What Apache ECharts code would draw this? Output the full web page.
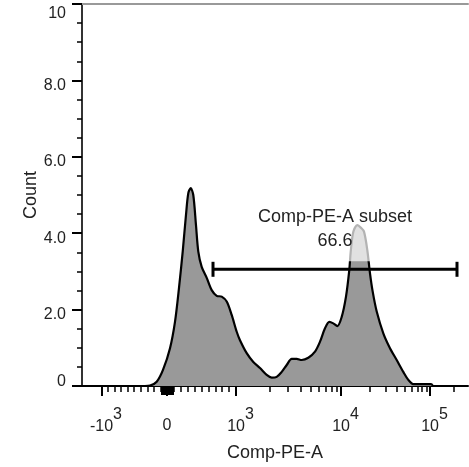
<!DOCTYPE html>
<html><head><meta charset="utf-8">
<script src="https://cdn.jsdelivr.net/npm/echarts@6/dist/echarts.min.js"></script>
<style>html,body{margin:0;padding:0;background:#fff}#c{width:469px;height:467px}</style>
</head><body><div id="c"></div>
<script>
// Histogram of Comp-PE-A on a display-channel scale (0..1000 across the plot)
const channels = [163.2, 176.2, 193.5, 209.8, 228.0, 240.9, 251.3, 260.9, 269.4, 275.4, 281.6, 288.3, 295.3, 301.3, 310.1, 323.1, 336.0, 349.0, 361.9, 374.9, 387.8, 400.8, 409.3, 426.7, 443.8, 461.1, 478.5, 491.5, 504.4, 517.4, 530.3, 543.3, 556.2, 569.2, 586.3, 603.6, 616.6, 629.5, 640.7, 651.0, 661.4, 672.8, 683.9, 692.5, 696.1, 702.9, 713.2, 722.8, 730.6, 739.1, 746.1, 753.1, 763.5, 780.6, 797.9, 815.3, 832.4, 845.4, 858.3, 875.7, 904.1, 909.3];
const counts = [0, 0.01, 0.11, 0.42, 0.99, 1.68, 2.57, 3.52, 4.48, 5.05, 5.18, 5.00, 4.21, 3.52, 3.12, 2.83, 2.51, 2.36, 2.34, 2.21, 1.86, 1.42, 1.20, 0.86, 0.63, 0.47, 0.29, 0.22, 0.24, 0.37, 0.55, 0.71, 0.71, 0.68, 0.74, 0.90, 1.16, 1.51, 1.68, 1.64, 1.57, 1.81, 2.34, 3.04, 3.51, 4.04, 4.21, 4.14, 4.04, 3.56, 2.95, 2.47, 1.95, 1.38, 0.99, 0.68, 0.37, 0.16, 0.05, 0.05, 0.05, 0];

// X axis ticks in Comp-PE-A units
const majorTickValues = [-1000, 0, 1000, 10000, 100000];
const majorTickBase = ['-10', '0', '10', '10', '10'];
const majorTickExp = ['3', '', '3', '4', '5'];
const minorTickValues = [-900, -800, -700, -600, -500, -400, -300, -200, -100,
  100, 200, 300, 400, 500, 600, 700, 800, 900,
  2000, 3000, 4000, 5000, 6000, 7000, 8000, 9000,
  20000, 30000, 40000, 50000, 60000, 70000, 80000, 90000, 200000];
const nearZeroTickValues = [-90, -80, -70, -60, -50, -40, -30, -20, -10, 10, 20, 30, 40, 50, 60, 70, 80, 90];

// Gate
const gateRange = [339.4, 971.5];
const gateLevel = 3.055;
const gateName = 'Comp-PE-A subset';
const gatePercent = '66.6';

// biexponential-like display transform (value -> display channel)
function toChannel(v) {
  if (v < 0) return 220.2 + 0.1697 * v;
  if (v <= 1000) return 220.2 + 0.17876 * v;
  const u = Math.log10(v / 1000);
  return 398.96 + 292.7 * u - 20.7 * u * u;
}
const majorCh = majorTickValues.map(toChannel);
const minorCh = minorTickValues.map(toChannel);
const zeroCh = nearZeroTickValues.map(toChannel);

const FONT = '"Liberation Sans", Arial, sans-serif';
const chart = echarts.init(document.getElementById('c'));

const xBase = {type: 'value', min: 0, max: 1000, position: 'bottom', splitLine: {show: false}};

chart.setOption({
  animation: false,
  backgroundColor: '#fff',
  grid: {left: 82, right: 1, top: 4, bottom: 81},
  xAxis: [
    Object.assign({}, xBase, {
      name: 'Comp-PE-A', nameLocation: 'middle', nameGap: 58, nameMoveOverlap: false,
      nameTextStyle: {fontSize: 18, color: '#222', fontFamily: FONT},
      axisLine: {lineStyle: {color: '#000', width: 2}},
      axisTick: {customValues: majorCh, length: 10, lineStyle: {color: '#000', width: 2}},
      axisLabel: {
        customValues: majorCh, margin: 21, color: '#222', fontFamily: FONT, fontSize: 16,
        formatter: function (val) {
          let i = 0, best = 1e9;
          majorCh.forEach((c, k) => { if (Math.abs(c - val) < best) { best = Math.abs(c - val); i = k; } });
          if (!majorTickExp[i]) return '{z|' + majorTickBase[i] + '}';
          return '{b|' + majorTickBase[i] + '}{s|' + majorTickExp[i] + '}';
        },
        rich: {
          b: {fontSize: 16, fontFamily: FONT, color: '#222', padding: [11, 0, 0, 9]},
          s: {fontSize: 16, fontFamily: FONT, color: '#222', padding: [0, 0, 12, 0]},
          z: {fontSize: 16, fontFamily: FONT, color: '#222', padding: [11, 0, 0, 0]}
        }
      }
    }),
    Object.assign({}, xBase, {
      axisLine: {show: false},
      axisTick: {customValues: minorCh, length: 6, lineStyle: {color: '#000', width: 1.5}},
      axisLabel: {show: false}
    }),
    Object.assign({}, xBase, {
      axisLine: {show: false},
      axisTick: {customValues: zeroCh, length: 9, lineStyle: {color: '#000', width: 1}},
      axisLabel: {show: false}
    }),
    Object.assign({}, xBase, {
      position: 'top',
      axisLine: {lineStyle: {color: '#999', width: 2}},
      axisTick: {show: false}, axisLabel: {show: false}
    })
  ],
  yAxis: [
    {
      type: 'value', min: 0, max: 10, interval: 2, position: 'left',
      name: 'Count', nameLocation: 'middle', nameGap: 42, nameMoveOverlap: false,
      nameTextStyle: {fontSize: 18, color: '#222', fontFamily: FONT},
      splitLine: {show: false},
      axisLine: {show: true, lineStyle: {color: '#000', width: 2}},
      axisTick: {show: true, length: 10, lineStyle: {color: '#000', width: 2}},
      minorTick: {show: true, splitNumber: 4, length: 5, lineStyle: {color: '#000', width: 1.5}},
      axisLabel: {
        margin: 16, color: '#222', fontFamily: FONT, fontSize: 16,
        formatter: function (v) {
          if (v === 0) return '{z|0}';
          if (v === 10) return '{t|10}';
          return '{n|' + v.toFixed(1) + '}';
        },
        rich: {
          n: {fontSize: 16, fontFamily: FONT, color: '#222', padding: [10, 0, 0, 0]},
          t: {fontSize: 16, fontFamily: FONT, color: '#222', padding: [20, 0, 0, 0]},
          z: {fontSize: 16, fontFamily: FONT, color: '#222', padding: [0, 0, 8, 0]}
        }
      }
    },
    {
      type: 'value', min: 0, max: 10, position: 'right',
      splitLine: {show: false},
      axisLine: {show: true, lineStyle: {color: '#333', width: 2}},
      axisTick: {show: false}, axisLabel: {show: false}
    }
  ],
  series: [
    {
      type: 'line', xAxisIndex: 0, yAxisIndex: 0,
      data: channels.map((c, i) => [c, counts[i]]),
      smooth: 0.3, symbol: 'none',
      lineStyle: {color: '#000', width: 2.2},
      areaStyle: {color: '#999999', opacity: 1},
      z: 2
    },
    {
      type: 'custom', xAxisIndex: 0, yAxisIndex: 0, z: 5,
      data: [[gateRange[0], gateRange[1], gateLevel]],
      renderItem: function (params, api) {
        const p1 = api.coord([api.value(0), api.value(2)]);
        const p2 = api.coord([api.value(1), api.value(2)]);
        const ls = {stroke: '#000', lineWidth: 3};
        return {
          type: 'group',
          children: [
            {type: 'line', shape: {x1: p1[0], y1: p1[1], x2: p2[0], y2: p2[1]}, style: ls},
            {type: 'line', shape: {x1: p1[0], y1: p1[1] - 7.5, x2: p1[0], y2: p1[1] + 7.5}, style: ls},
            {type: 'line', shape: {x1: p2[0], y1: p2[1] - 7.5, x2: p2[0], y2: p2[1] + 7.5}, style: ls},
            {type: 'text', style: {
              text: gateName + '\n' + gatePercent,
              x: (p1[0] + p2[0]) / 2, y: p1[1] - 8,
              align: 'center', verticalAlign: 'bottom',
              font: '18px ' + FONT, lineHeight: 24, fill: '#222',
              backgroundColor: 'rgba(255,255,255,0.7)', padding: [4, 6, 8, 6]
            }}
          ]
        };
      }
    }
  ]
});
</script></body></html>
